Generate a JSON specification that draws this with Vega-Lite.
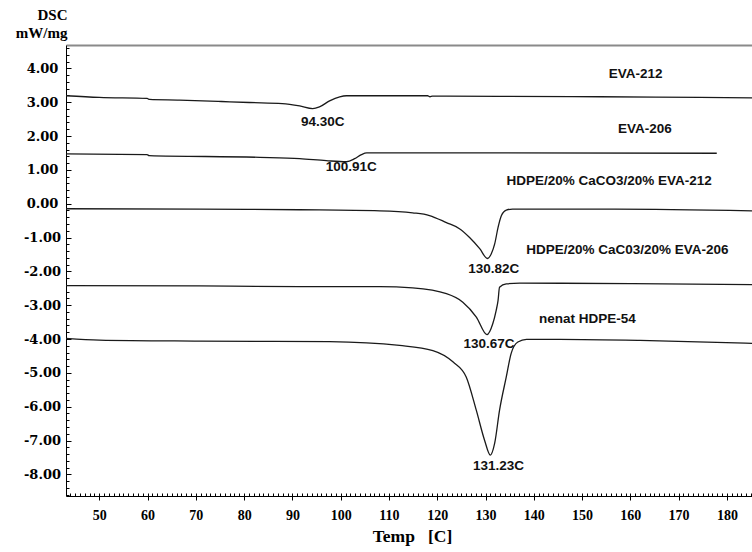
{
  "$schema": "https://vega.github.io/schema/vega-lite/v6.json",
  "width": 686,
  "height": 451,
  "autosize": {"type": "none"},
  "padding": {"left": 66, "top": 45, "right": 0, "bottom": 56},
  "background": "white",
  "config": {
    "view": {"stroke": null},
    "axis": {"grid": false, "labelColor": "black", "titleColor": "black", "domainColor": "black", "tickColor": "black", "labelFontWeight": "bold", "titleFontWeight": "bold"}
  },
  "datasets": {
    "curves": [
      {"curve": "EVA-212", "temp": 43.1, "dsc": 3.19},
      {"curve": "EVA-212", "temp": 50.0, "dsc": 3.14},
      {"curve": "EVA-212", "temp": 59.9, "dsc": 3.11},
      {"curve": "EVA-212", "temp": 60.4, "dsc": 3.08},
      {"curve": "EVA-212", "temp": 66.6, "dsc": 3.06},
      {"curve": "EVA-212", "temp": 75.3, "dsc": 3.02},
      {"curve": "EVA-212", "temp": 81.1, "dsc": 2.99},
      {"curve": "EVA-212", "temp": 87.9, "dsc": 2.96},
      {"curve": "EVA-212", "temp": 91.5, "dsc": 2.89},
      {"curve": "EVA-212", "temp": 94.2, "dsc": 2.81},
      {"curve": "EVA-212", "temp": 95.6, "dsc": 2.86},
      {"curve": "EVA-212", "temp": 97.7, "dsc": 3.04},
      {"curve": "EVA-212", "temp": 99.8, "dsc": 3.16},
      {"curve": "EVA-212", "temp": 101.2, "dsc": 3.19},
      {"curve": "EVA-212", "temp": 118.0, "dsc": 3.19},
      {"curve": "EVA-212", "temp": 118.5, "dsc": 3.16},
      {"curve": "EVA-212", "temp": 119.0, "dsc": 3.18},
      {"curve": "EVA-212", "temp": 132.9, "dsc": 3.17},
      {"curve": "EVA-212", "temp": 153.7, "dsc": 3.16},
      {"curve": "EVA-212", "temp": 174.4, "dsc": 3.14},
      {"curve": "EVA-212", "temp": 185.2, "dsc": 3.13},
      {"curve": "EVA-206", "temp": 43.1, "dsc": 1.47},
      {"curve": "EVA-206", "temp": 59.9, "dsc": 1.45},
      {"curve": "EVA-206", "temp": 60.3, "dsc": 1.42},
      {"curve": "EVA-206", "temp": 83.2, "dsc": 1.37},
      {"curve": "EVA-206", "temp": 91.5, "dsc": 1.33},
      {"curve": "EVA-206", "temp": 97.0, "dsc": 1.27},
      {"curve": "EVA-206", "temp": 101.2, "dsc": 1.24},
      {"curve": "EVA-206", "temp": 102.9, "dsc": 1.33},
      {"curve": "EVA-206", "temp": 104.3, "dsc": 1.45},
      {"curve": "EVA-206", "temp": 105.4, "dsc": 1.50},
      {"curve": "EVA-206", "temp": 132.9, "dsc": 1.50},
      {"curve": "EVA-206", "temp": 177.9, "dsc": 1.49},
      {"curve": "HDPE/20% CaCO3/20% EVA-212", "temp": 43.1, "dsc": -0.15},
      {"curve": "HDPE/20% CaCO3/20% EVA-212", "temp": 70.7, "dsc": -0.16},
      {"curve": "HDPE/20% CaCO3/20% EVA-212", "temp": 91.5, "dsc": -0.18},
      {"curve": "HDPE/20% CaCO3/20% EVA-212", "temp": 108.1, "dsc": -0.21},
      {"curve": "HDPE/20% CaCO3/20% EVA-212", "temp": 114.9, "dsc": -0.27},
      {"curve": "HDPE/20% CaCO3/20% EVA-212", "temp": 118.4, "dsc": -0.35},
      {"curve": "HDPE/20% CaCO3/20% EVA-212", "temp": 121.9, "dsc": -0.56},
      {"curve": "HDPE/20% CaCO3/20% EVA-212", "temp": 124.6, "dsc": -0.74},
      {"curve": "HDPE/20% CaCO3/20% EVA-212", "temp": 126.7, "dsc": -1.0},
      {"curve": "HDPE/20% CaCO3/20% EVA-212", "temp": 128.8, "dsc": -1.33},
      {"curve": "HDPE/20% CaCO3/20% EVA-212", "temp": 130.4, "dsc": -1.62},
      {"curve": "HDPE/20% CaCO3/20% EVA-212", "temp": 131.2, "dsc": -1.48},
      {"curve": "HDPE/20% CaCO3/20% EVA-212", "temp": 131.9, "dsc": -1.19},
      {"curve": "HDPE/20% CaCO3/20% EVA-212", "temp": 132.6, "dsc": -0.70},
      {"curve": "HDPE/20% CaCO3/20% EVA-212", "temp": 133.3, "dsc": -0.35},
      {"curve": "HDPE/20% CaCO3/20% EVA-212", "temp": 134.3, "dsc": -0.19},
      {"curve": "HDPE/20% CaCO3/20% EVA-212", "temp": 135.6, "dsc": -0.16},
      {"curve": "HDPE/20% CaCO3/20% EVA-212", "temp": 156.8, "dsc": -0.16},
      {"curve": "HDPE/20% CaCO3/20% EVA-212", "temp": 185.2, "dsc": -0.21},
      {"curve": "HDPE/20% CaC03/20% EVA-206", "temp": 43.1, "dsc": -2.42},
      {"curve": "HDPE/20% CaC03/20% EVA-206", "temp": 70.7, "dsc": -2.43},
      {"curve": "HDPE/20% CaC03/20% EVA-206", "temp": 91.5, "dsc": -2.45},
      {"curve": "HDPE/20% CaC03/20% EVA-206", "temp": 108.1, "dsc": -2.45},
      {"curve": "HDPE/20% CaC03/20% EVA-206", "temp": 114.9, "dsc": -2.49},
      {"curve": "HDPE/20% CaC03/20% EVA-206", "temp": 121.9, "dsc": -2.66},
      {"curve": "HDPE/20% CaC03/20% EVA-206", "temp": 125.3, "dsc": -2.91},
      {"curve": "HDPE/20% CaC03/20% EVA-206", "temp": 128.1, "dsc": -3.35},
      {"curve": "HDPE/20% CaC03/20% EVA-206", "temp": 130.3, "dsc": -3.87},
      {"curve": "HDPE/20% CaC03/20% EVA-206", "temp": 131.5, "dsc": -3.55},
      {"curve": "HDPE/20% CaC03/20% EVA-206", "temp": 132.2, "dsc": -3.16},
      {"curve": "HDPE/20% CaC03/20% EVA-206", "temp": 132.6, "dsc": -2.86},
      {"curve": "HDPE/20% CaC03/20% EVA-206", "temp": 132.9, "dsc": -2.47},
      {"curve": "HDPE/20% CaC03/20% EVA-206", "temp": 134.3, "dsc": -2.37},
      {"curve": "HDPE/20% CaC03/20% EVA-206", "temp": 137.1, "dsc": -2.35},
      {"curve": "HDPE/20% CaC03/20% EVA-206", "temp": 160.0, "dsc": -2.36},
      {"curve": "HDPE/20% CaC03/20% EVA-206", "temp": 185.2, "dsc": -2.39},
      {"curve": "nenat HDPE-54", "temp": 43.1, "dsc": -3.98},
      {"curve": "nenat HDPE-54", "temp": 50.0, "dsc": -4.03},
      {"curve": "nenat HDPE-54", "temp": 70.7, "dsc": -4.06},
      {"curve": "nenat HDPE-54", "temp": 97.7, "dsc": -4.08},
      {"curve": "nenat HDPE-54", "temp": 112.2, "dsc": -4.19},
      {"curve": "nenat HDPE-54", "temp": 119.1, "dsc": -4.34},
      {"curve": "nenat HDPE-54", "temp": 123.3, "dsc": -4.68},
      {"curve": "nenat HDPE-54", "temp": 126.0, "dsc": -5.12},
      {"curve": "nenat HDPE-54", "temp": 128.1, "dsc": -6.11},
      {"curve": "nenat HDPE-54", "temp": 129.8, "dsc": -6.99},
      {"curve": "nenat HDPE-54", "temp": 131.0, "dsc": -7.43},
      {"curve": "nenat HDPE-54", "temp": 131.9, "dsc": -7.08},
      {"curve": "nenat HDPE-54", "temp": 132.9, "dsc": -6.11},
      {"curve": "nenat HDPE-54", "temp": 134.3, "dsc": -5.12},
      {"curve": "nenat HDPE-54", "temp": 135.3, "dsc": -4.43},
      {"curve": "nenat HDPE-54", "temp": 136.7, "dsc": -4.09},
      {"curve": "nenat HDPE-54", "temp": 138.5, "dsc": -4.01},
      {"curve": "nenat HDPE-54", "temp": 145.4, "dsc": -4.01},
      {"curve": "nenat HDPE-54", "temp": 162.0, "dsc": -4.04},
      {"curve": "nenat HDPE-54", "temp": 185.2, "dsc": -4.13}
    ],
    "labels": [
      {"label": "EVA-212", "temp": 161.1, "dsc": 3.83},
      {"label": "94.30C", "temp": 96.3, "dsc": 2.40},
      {"label": "EVA-206", "temp": 163.0, "dsc": 2.21},
      {"label": "100.91C", "temp": 102.2, "dsc": 1.09},
      {"label": "HDPE/20% CaCO3/20% EVA-212", "temp": 155.6, "dsc": 0.66},
      {"label": "130.82C", "temp": 131.7, "dsc": -1.93},
      {"label": "HDPE/20% CaC03/20% EVA-206", "temp": 159.4, "dsc": -1.37},
      {"label": "130.67C", "temp": 130.7, "dsc": -4.14},
      {"label": "nenat HDPE-54", "temp": 151.1, "dsc": -3.40},
      {"label": "131.23C", "temp": 132.7, "dsc": -7.75}
    ]
  },
  "layer": [
    {
      "data": {"name": "curves"},
      "mark": {"type": "line", "color": "#1a1a1a", "strokeWidth": 1.3, "interpolate": "monotone", "clip": true},
      "encoding": {
        "x": {
          "field": "temp", "type": "quantitative",
          "scale": {"domain": [43.1, 185.2], "nice": false, "zero": false},
          "axis": {
            "orient": "bottom", "values": [50, 60, 70, 80, 90, 100, 110, 120, 130, 140, 150, 160, 170, 180],
            "format": "d", "labelFont": "Liberation Serif", "labelFontSize": 14, "labelPadding": 8,
            "ticks": true, "tickSize": 4, "domainWidth": 1,
            "title": "Temp\u00a0\u00a0\u00a0[C]", "titleFont": "Liberation Serif", "titleFontSize": 17.5,
            "titleX": 346, "titleY": 45, "titleAlign": "center", "titleBaseline": "alphabetic"
          }
        },
        "y": {
          "field": "dsc", "type": "quantitative",
          "scale": {"domain": [-8.64, 4.69], "nice": false, "zero": false},
          "axis": {
            "orient": "left", "values": [-8, -7, -6, -5, -4, -3, -2, -1, 0, 1, 2, 3, 4],
            "labelExpr": "(datum.value < 0 ? '-' : '') + format(abs(datum.value), '.2f')",
            "labelFont": "DejaVu Serif", "labelFontSize": 13, "labelAlign": "center", "labelPadding": 24,
            "ticks": false, "domainWidth": 1,
            "title": ["DSC\u00a0", "mW/mg"], "titleFont": "Liberation Serif", "titleFontSize": 15,
            "titleAngle": 0, "titleAlign": "right", "titleBaseline": "alphabetic",
            "titleX": 1, "titleY": -26, "titleLineHeight": 18
          }
        },
        "detail": {"field": "curve"}
      }
    },
    {
      "data": {"name": "labels"},
      "mark": {"type": "text", "font": "Liberation Sans", "fontWeight": "bold", "fontSize": 13.5, "align": "center", "baseline": "middle", "color": "#111"},
      "encoding": {
        "x": {
          "field": "temp", "type": "quantitative",
          "scale": {"domain": [43.1, 185.2], "nice": false, "zero": false},
          "axis": {
            "orient": "bottom",
            "values": [43,44,45,46,47,48,49,50,51,52,53,54,55,56,57,58,59,60,61,62,63,64,65,66,67,68,69,70,71,72,73,74,75,76,77,78,79,80,81,82,83,84,85,86,87,88,89,90,91,92,93,94,95,96,97,98,99,100,101,102,103,104,105,106,107,108,109,110,111,112,113,114,115,116,117,118,119,120,121,122,123,124,125,126,127,128,129,130,131,132,133,134,135,136,137,138,139,140,141,142,143,144,145,146,147,148,149,150,151,152,153,154,155,156,157,158,159,160,161,162,163,164,165,166,167,168,169,170,171,172,173,174,175,176,177,178,179,180,181,182,183,184,185],
            "labels": false, "domain": false, "ticks": true, "tickSize": -3, "title": null
          }
        },
        "y": {
          "field": "dsc", "type": "quantitative",
          "scale": {"domain": [-8.64, 4.69], "nice": false, "zero": false},
          "axis": {
            "orient": "left",
            "values": [-8.6,-8.4,-8.2,-8,-7.8,-7.6,-7.4,-7.2,-7,-6.8,-6.6,-6.4,-6.2,-6,-5.8,-5.6,-5.4,-5.2,-5,-4.8,-4.6,-4.4,-4.2,-4,-3.8,-3.6,-3.4,-3.2,-3,-2.8,-2.6,-2.4,-2.2,-2,-1.8,-1.6,-1.4,-1.2,-1,-0.8,-0.6,-0.4,-0.2,0,0.2,0.4,0.6,0.8,1,1.2,1.4,1.6,1.8,2,2.2,2.4,2.6,2.8,3,3.2,3.4,3.6,3.8,4,4.2,4.4,4.6],
            "labels": false, "domain": false, "ticks": true, "tickSize": -3, "title": null
          }
        },
        "text": {"field": "label"}
      }
    },
    {
      "data": {"name": "curves"},
      "mark": {"type": "line", "opacity": 0},
      "encoding": {
        "x": {
          "field": "temp", "type": "quantitative",
          "scale": {"domain": [43.1, 185.2], "nice": false, "zero": false},
          "axis": {"orient": "top", "labels": false, "ticks": false, "domain": true, "domainColor": "#8a8a8a", "domainWidth": 2, "title": null}
        },
        "y": {
          "field": "dsc", "type": "quantitative",
          "scale": {"domain": [-8.64, 4.69], "nice": false, "zero": false},
          "axis": {"orient": "left", "values": [-8, -7, -6, -5, -4, -3, -2, -1, 0, 1, 2, 3, 4], "labels": false, "domain": false, "ticks": true, "tickSize": -5, "title": null}
        },
        "detail": {"field": "curve"}
      }
    }
  ],
  "resolve": {"axis": {"x": "independent", "y": "independent"}}
}
